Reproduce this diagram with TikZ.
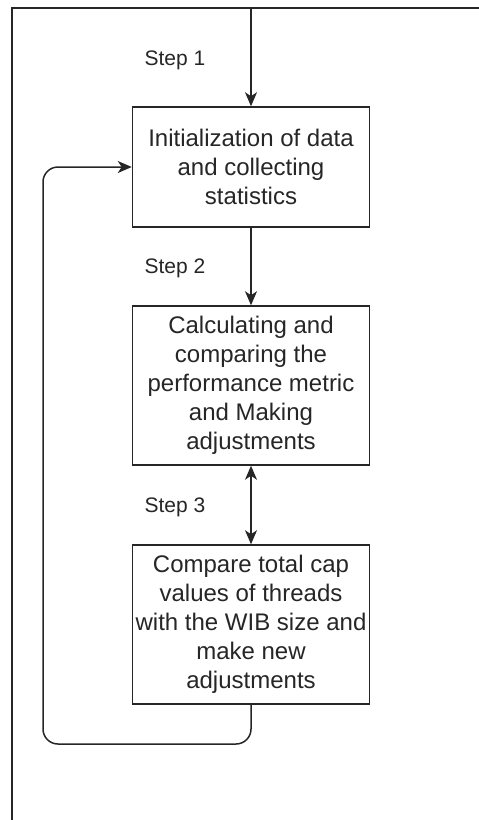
\documentclass[tikz,border=0pt]{standalone}
\usepackage{fontspec}
\setmainfont{Liberation Sans}
\usetikzlibrary{arrows.meta}
\begin{document}
\begin{tikzpicture}[x=1pt,y=-1pt,
  line/.style={draw=black!85, line width=1.5pt},
  tip/.tip={Stealth[length=14pt,width=12pt,inset=4pt]},
  arr/.style={line, -tip},
  darr/.style={line, tip-tip},
  stepbox/.style={line, fill=white, minimum width=237pt, align=center, inner sep=0pt,
    text=black!85, font=\fontsize{24}{29}\selectfont},
  steplabel/.style={text=black!85, font=\fontsize{21}{25}\selectfont, inner sep=0pt}]
\useasboundingbox (0,0) rectangle (479,820);
% outer frame (top and left edges)
\coordinate (fl) at (12,820);
\coordinate (ftl) at (12,8);
\coordinate (fr) at (479,8);
\draw[line] (fl) -- (ftl) -- (fr);

\node[stepbox, minimum height=120pt] (b1) at (251,167)
  {Initialization of data\\and collecting\\statistics};
\node[stepbox, minimum height=159pt] (b2) at (251,385.5)
  {Calculating and\\comparing the\\performance metric\\and Making\\adjustments};
\node[stepbox, minimum height=159pt] (b3) at (251,624.5)
  {Compare total cap\\values of threads\\with the WIB size and\\make new\\adjustments};

\node[steplabel] (s1) at (175,60) {Step 1};
\node[steplabel] (s2) at (175,268) {Step 2};
\node[steplabel] (s3) at (175,507) {Step 3};

\coordinate (top) at (251,8);
\coordinate (loop) at (43,744);
\draw[arr] (top) -- (b1.north);
\draw[arr] (b1.south) -- (b2.north);
\draw[darr] (b2.south) -- (b3.north);
\draw[arr, rounded corners=15pt] (b3.south) |- (loop) |- (b1.west);
\end{tikzpicture}
\end{document}
